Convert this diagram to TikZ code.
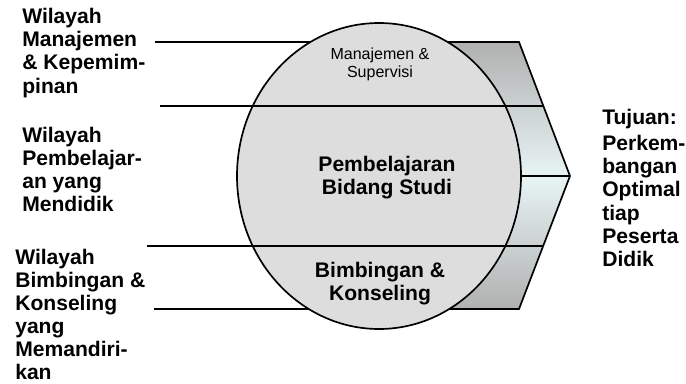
\documentclass[tikz,border=0pt]{standalone}
\usepackage{fontspec}
\setmainfont{Liberation Sans}
\usepackage{tikz}

\definecolor{ringgrey}{HTML}{DDDDDD}
\definecolor{platedark}{HTML}{B0B0B0}
\definecolor{platelight}{HTML}{E8F4F4}

\tikzset{
  areatext/.style={anchor=west, align=left, inner sep=0pt, font=\fontsize{15}{16.4}\selectfont\bfseries},
  fieldtext/.style={align=center, inner sep=0pt, font=\fontsize{15}{16.4}\selectfont\bfseries},
  divider/.style={black, line width=1.2pt}
}

\begin{document}
\begin{tikzpicture}
\useasboundingbox (0cm,0cm) rectangle (17.15cm,-9.575cm);
% ends of the dividing lines
\coordinate (topL) at (3.875cm,-1.05cm);
\coordinate (topR) at (12.975cm,-1.05cm);
\coordinate (upL) at (4cm,-2.65cm);
\coordinate (upR) at (13.575cm,-2.65cm);
\coordinate (lowL) at (3.675cm,-6.15cm);
\coordinate (lowR) at (13.575cm,-6.15cm);
\coordinate (botL) at (3.85cm,-7.725cm);
\coordinate (botR) at (12.975cm,-7.725cm);
\coordinate (tip) at (14.25cm,-4.4cm);
\coordinate (ringR) at (13.025cm,-4.4cm);
% arrow plate behind the circle
\shade[top color=platedark, bottom color=platelight] (9.475cm,-1.05cm) -- (topR) -- (tip) -- (9.475cm,-4.4cm) -- cycle;
\shade[top color=platelight, bottom color=platedark] (9.475cm,-4.4cm) -- (tip) -- (botR) -- (9.475cm,-7.725cm) -- cycle;
\draw[divider, line join=miter] (topL) -- (topR) -- (tip) -- (botR) -- (botL);
% circle
\draw[fill=ringgrey, line width=1.2pt] (9.475cm,-4.4cm) ellipse (3.55cm and 3.825cm);
\draw[divider] (upL) -- (upR);
\draw[divider] (lowL) -- (lowR);
\draw[divider] (ringR) -- (tip);
% fields inside the circle
\node[align=center, inner sep=0pt, font=\fontsize{11.4}{12.8}\selectfont] (mgmt) at (9.5cm,-1.6cm) {Manajemen \&\\Supervisi};
\node[fieldtext] (learn) at (9.675cm,-4.45cm) {Pembelajaran\\Bidang Studi};
\node[fieldtext] (guide) at (9.5cm,-7.09cm) {Bimbingan \&\\Konseling};
% areas on the left
\node[areatext] (areaA) at (0.55cm,-1.325cm) {Wilayah\\Manajemen\\\& Kepemim-\\pinan};
\node[areatext] (areaB) at (0.55cm,-4.24cm) {Wilayah\\Pembelajar-\\an yang\\Mendidik};
\node[areatext] (areaC) at (0.375cm,-7.86cm) {Wilayah\\Bimbingan \&\\Konseling\\yang\\Memandiri-\\kan};
% goal on the right
\node[areatext] (goal) at (15.05cm,-4.69cm) {Tujuan:\\[2.6pt]Perkem-\\bangan\\Optimal\\tiap\\Peserta\\Didik};
\end{tikzpicture}
\end{document}
